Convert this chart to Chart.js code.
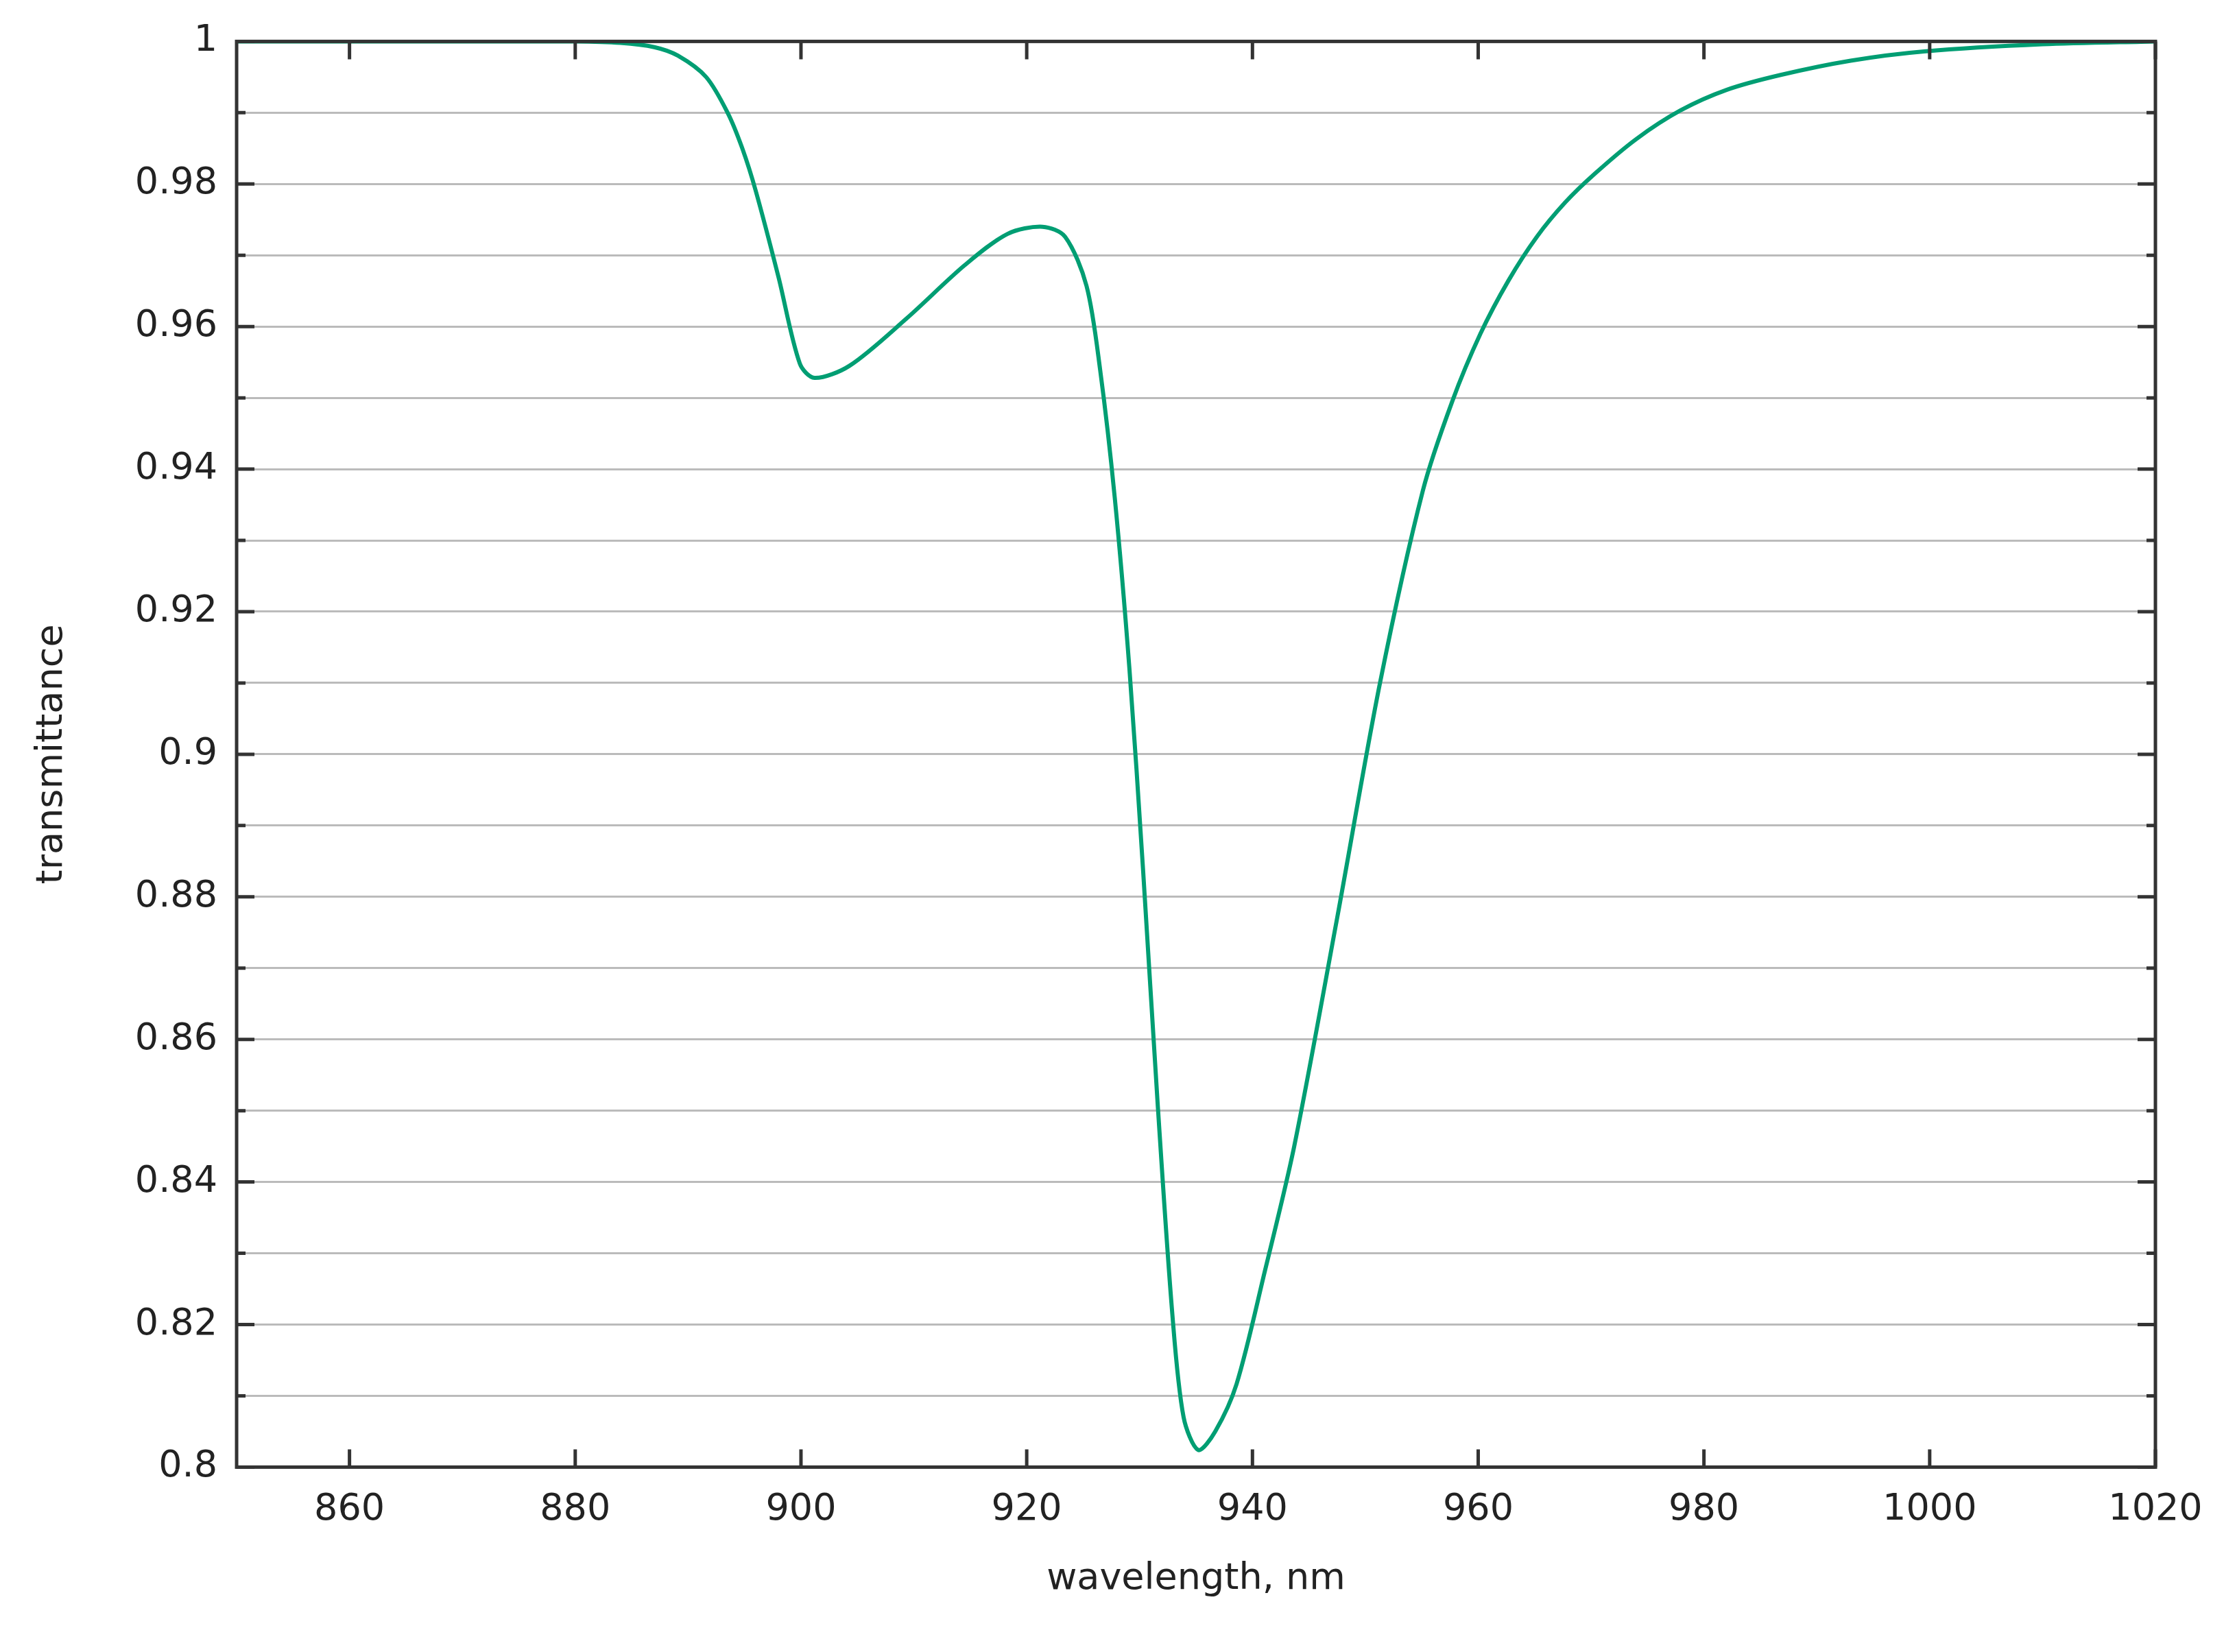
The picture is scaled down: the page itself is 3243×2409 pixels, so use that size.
<!DOCTYPE html>
<html>
<head>
<meta charset="utf-8">
<script src="https://cdn.jsdelivr.net/npm/chart.js@4"></script>
<style>
  html, body { margin: 0; padding: 0; background: #fff; }
  #wrap { width: 3243px; height: 2409px; }
</style>
</head>
<body>
<div id="wrap"><canvas id="c" width="3243" height="2409"></canvas></div>
<script>
// wavelength (nm) and transmittance
const wavelengths = [850, 860, 870, 880, 884, 887, 889.1, 891.6, 893.5, 894.8, 896, 898, 899.9, 901.2,
  904.3, 909.4, 914.5, 918.3, 921.4, 923.4, 925.3, 926.5, 927.8, 929.1, 930.3, 931.6, 932.9,
  933.9, 935.2, 936.7, 938.6, 941.1, 943.7, 947.5, 951.3, 955.1, 957.7, 960.2, 962.7, 965.2,
  967.7, 970.3, 974, 977.9, 982, 986.8, 993, 999.5, 1010, 1020];
const transmittance = [1, 1, 1, 1, 0.9998, 0.9992, 0.998, 0.995, 0.990, 0.985, 0.979, 0.967, 0.9548, 0.9528,
  0.9545, 0.9612, 0.9686, 0.973, 0.974, 0.9726, 0.9657, 0.954, 0.936, 0.912, 0.884, 0.851, 0.8215,
  0.807, 0.8024, 0.805, 0.8117, 0.8275, 0.845, 0.877, 0.910, 0.937, 0.9495, 0.959, 0.9665, 0.9726,
  0.9774, 0.9814, 0.9863, 0.9903, 0.9932, 0.9953, 0.9973, 0.9986, 0.9996, 1];
const xTicks = [860, 880, 900, 920, 940, 960, 980, 1000, 1020];

const FONT = '"DejaVu Sans", sans-serif';

// inward tick marks + frame, like gnuplot
const frameTicks = {
  id: 'frameTicks',
  afterDraw(chart) {
    const { ctx, chartArea: a, scales: { x, y } } = chart;
    ctx.save();
    ctx.strokeStyle = '#333';
    ctx.lineWidth = 5;
    xTicks.forEach(v => {
      const px = x.getPixelForValue(v);
      ctx.beginPath();
      ctx.moveTo(px, a.bottom); ctx.lineTo(px, a.bottom - 26);
      ctx.moveTo(px, a.top); ctx.lineTo(px, a.top + 26);
      ctx.stroke();
    });
    for (let k = 0; k <= 20; k++) {
      const py = y.getPixelForValue(0.8 + k * 0.01);
      const len = k % 2 === 0 ? 26 : 13;
      ctx.beginPath();
      ctx.moveTo(a.left, py); ctx.lineTo(a.left + len, py);
      ctx.moveTo(a.right, py); ctx.lineTo(a.right - len, py);
      ctx.stroke();
    }
    ctx.strokeRect(a.left, a.top, a.right - a.left, a.bottom - a.top);
    ctx.restore();
  }
};

new Chart(document.getElementById('c'), {
  type: 'scatter',
  data: {
    datasets: [{
      data: wavelengths.map((w, i) => ({ x: w, y: transmittance[i] })),
      showLine: true,
      borderColor: '#009e73',
      borderWidth: 6,
      pointRadius: 0,
      tension: 0.3
    }]
  },
  options: {
    responsive: false,
    animation: false,
    layout: { padding: { top: 50, right: 100, left: 40, bottom: 70 } },
    plugins: { legend: { display: false }, tooltip: { enabled: false } },
    scales: {
      x: {
        type: 'linear', min: 850, max: 1020,
        grid: { display: false },
        border: { display: false },
        ticks: {
          stepSize: 10, autoSkip: false, maxRotation: 0, padding: 22,
          color: '#222', font: { family: FONT, size: 54 },
          callback: v => (v % 20 === 0 ? v : '')
        },
        title: { display: true, text: 'wavelength, nm', color: '#222',
                 font: { family: FONT, size: 54 }, padding: { top: 14 } }
      },
      y: {
        min: 0.8, max: 1,
        grid: { color: '#bbb', lineWidth: 3, borderDash: [3, 11], drawTicks: false },
        border: { display: false },
        ticks: {
          stepSize: 0.01, autoSkip: false, padding: 28,
          color: '#222', font: { family: FONT, size: 54 },
          callback: v => {
            const k = Math.round(v * 100);
            return k % 2 === 0 ? String(+(k / 100).toFixed(2)) : '';
          }
        },
        title: { display: true, text: 'transmittance', color: '#222',
                 font: { family: FONT, size: 54 }, padding: { bottom: 60 } }
      }
    }
  },
  plugins: [frameTicks]
});
</script>
</body>
</html>
